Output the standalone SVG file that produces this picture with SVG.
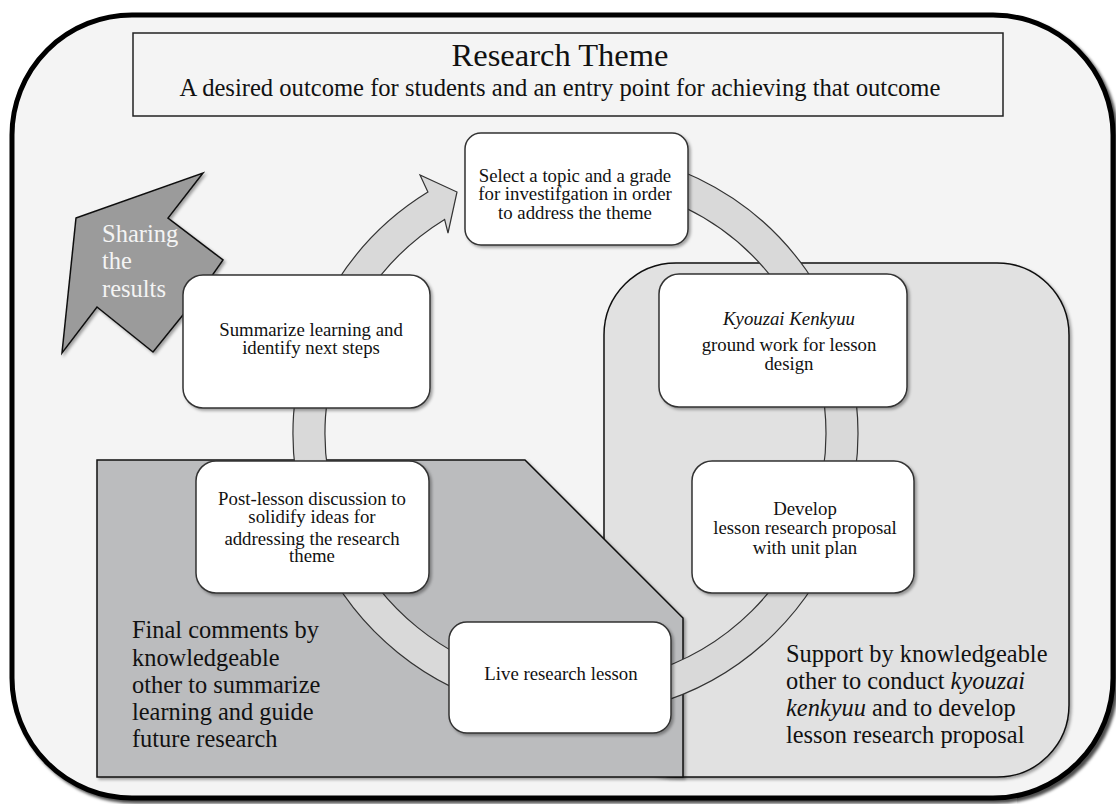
<svg xmlns="http://www.w3.org/2000/svg" width="1116" height="804" viewBox="0 0 1116 804">
<defs>
<filter id="sh" x="-10%" y="-10%" width="130%" height="130%">
<feDropShadow dx="2" dy="2" stdDeviation="1.5" flood-color="#000" flood-opacity="0.35"/>
</filter>
<filter id="fsh" x="-5%" y="-5%" width="110%" height="110%">
<feDropShadow dx="3" dy="3" stdDeviation="1.5" flood-color="#000" flood-opacity="0.7"/>
</filter>
<style>
text{font-family:"Liberation Serif","Times New Roman",serif;fill:#111}
.node rect{fill:#fff;stroke:#333;stroke-width:1.5;filter:url(#sh)}
.nt{font-size:18.8px;text-anchor:middle}
.big{font-size:24.4px}
.band{fill:#d9d9d9;stroke:#333;stroke-width:1.2}
</style>
</defs>
<rect x="0" y="0" width="1116" height="804" fill="#fff"/>
<rect id="frame" x="12" y="15" width="1101" height="783" rx="120" fill="#f4f4f4" stroke="#000" stroke-width="5" filter="url(#fsh)"/>

<g id="theme">
<rect x="133" y="33" width="870" height="83" fill="#f4f4f4" stroke="#222" stroke-width="1.5"/>
<text x="560" y="66" font-size="32.5" text-anchor="middle">Research Theme</text>
<text x="560" y="96" font-size="24.6" text-anchor="middle">A desired outcome for students and an entry point for achieving that outcome</text>
</g>

<g id="support">
<rect x="604" y="263" width="465" height="514" rx="72" fill="#e1e1e1" stroke="#111" stroke-width="1.5" filter="url(#sh)"/>
<text class="big" x="786" y="662">Support by knowledgeable</text>
<text class="big" x="786" y="689">other to conduct <tspan font-style="italic">kyouzai</tspan></text>
<text class="big" x="786" y="716"><tspan font-style="italic">kenkyuu</tspan> and to develop</text>
<text class="big" x="786" y="743">lesson research proposal</text>
</g>

<g id="final">
<polygon points="97,460 525,460 683,618 683,777 97,777" fill="#bbbcbe" stroke="#111" stroke-width="1.5" filter="url(#sh)"/>
<text class="big" x="132" y="638">Final comments by</text>
<text class="big" x="132" y="666">knowledgeable</text>
<text class="big" x="132" y="693">other to summarize</text>
<text class="big" x="132" y="720">learning and guide</text>
<text class="big" x="132" y="747">future research</text>
</g>

<g id="connectors">
<path class="band" d="M575.5 150.5 A282.5 282.5 0 1 1 427.9 192.1 L420 175 L457 192 L448 233 L444.6 219.4 A250.5 250.5 0 1 0 575.5 182.5 Z"/>
</g>

<g id="sharing">
<polygon points="76,218 203,173 168,218 223,260 195,300 153,352 97,307 62,353" fill="#9b9b9b" stroke="#111" stroke-width="1.5" filter="url(#sh)"/>
<text x="102" y="242" font-size="24.5" style="fill:#f4f4f4">Sharing</text>
<text x="102" y="269" font-size="24.5" style="fill:#f4f4f4">the</text>
<text x="102" y="297" font-size="24.5" style="fill:#f4f4f4">results</text>
</g>

<g id="n-select" class="node">
<rect x="465" y="133" width="223" height="112" rx="16"/>
<text class="nt" x="575" y="182">Select a topic and a grade</text>
<text class="nt" x="575" y="200">for investifgation in order</text>
<text class="nt" x="575" y="219">to address the theme</text>
</g>

<g id="n-kyouzai" class="node">
<rect x="659" y="274" width="248" height="133" rx="20"/>
<text class="nt" x="789" y="325" font-style="italic">Kyouzai Kenkyuu</text>
<text class="nt" x="789" y="351">ground work for lesson</text>
<text class="nt" x="789" y="370">design</text>
</g>

<g id="n-develop" class="node">
<rect x="692" y="461" width="222" height="132" rx="20"/>
<text class="nt" x="805" y="515">Develop</text>
<text class="nt" x="805" y="534">lesson research proposal</text>
<text class="nt" x="805" y="554">with unit plan</text>
</g>

<g id="n-live" class="node">
<rect x="449" y="622" width="222" height="111" rx="18"/>
<text class="nt" x="561" y="680">Live research lesson</text>
</g>

<g id="n-post" class="node">
<rect x="196" y="461" width="233" height="132" rx="20"/>
<text class="nt" x="312" y="505">Post-lesson discussion to</text>
<text class="nt" x="312" y="523">solidify ideas for</text>
<text class="nt" x="312" y="545">addressing the research</text>
<text class="nt" x="312" y="562">theme</text>
</g>

<g id="n-summarize" class="node">
<rect x="183" y="275" width="247" height="133" rx="20"/>
<text class="nt" x="311" y="336">Summarize learning and</text>
<text class="nt" x="311" y="354">identify next steps</text>
</g>
</svg>
